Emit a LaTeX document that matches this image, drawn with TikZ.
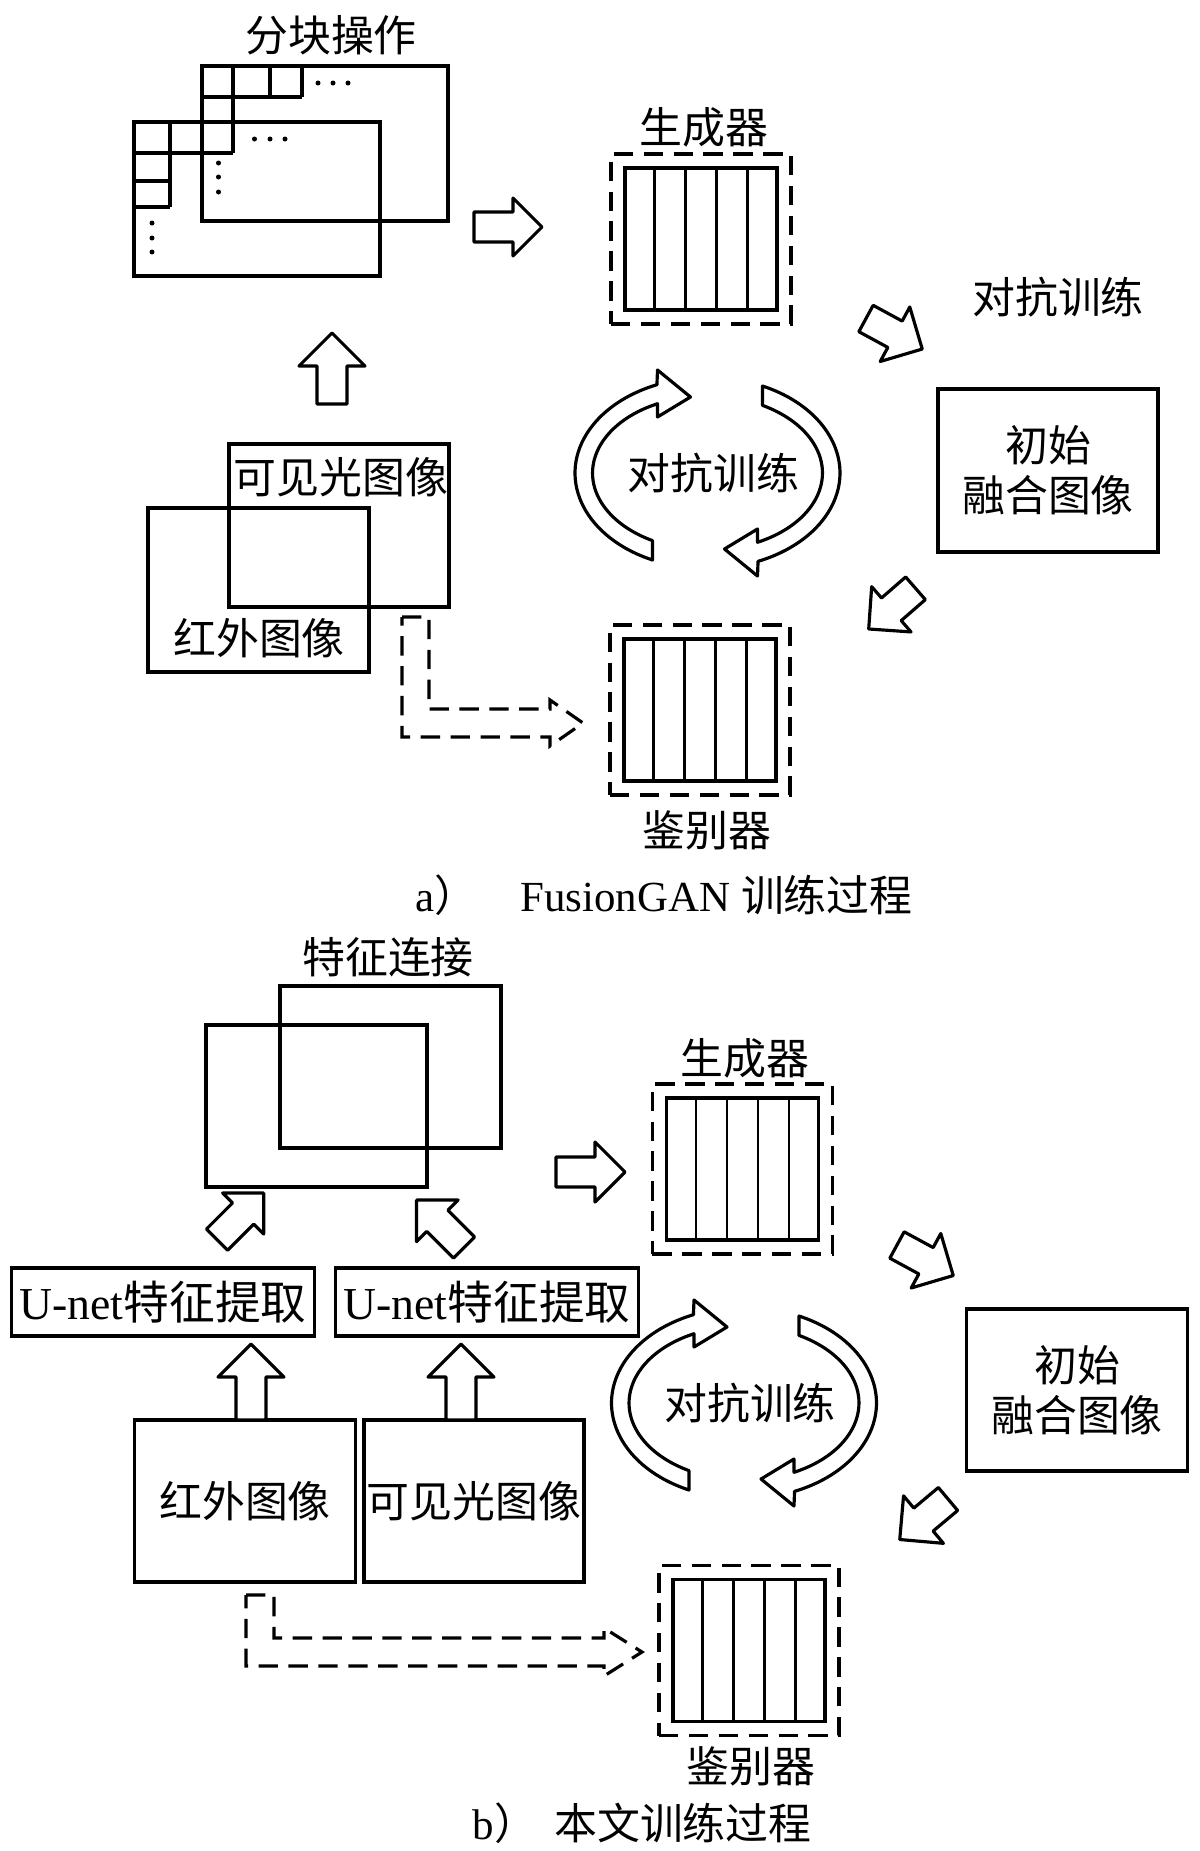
\documentclass[tikz,border=0pt]{standalone}
\usepackage{fontspec}
\setmainfont{Liberation Serif}
\newfontfamily\cjk{Noto Sans CJK SC}
\usepackage{tikz}
\usetikzlibrary{positioning,calc}

\tikzset{
  box/.style={draw, line width=0.9pt, inner sep=0pt},
  dashbox/.style={draw, line width=0.9pt, inner sep=0pt, dash pattern=on 5.5pt off 3pt},
  fat/.style={draw, line width=0.9pt, fill=white, line join=round},
  txt/.style={inner sep=0pt},
}

% block arrow: tail centre, angle, shaft length, head length
\newcommand{\fatarrow}[5][fat]{%
  \draw[#1, shift={(#2)}, rotate=#3] (0,-15) -- (#4,-15) -- (#4,-#5) -- ({#4+#5},0) -- (#4,#5) -- (#4,15) -- (0,15) -- cycle;}

% generator / discriminator block
\newcommand{\netblock}[2]{%
  \node[box, minimum width=1.52cm, minimum height=1.42cm] (#1) at (#2) {};
  \node[dashbox, minimum width=1.80cm, minimum height=1.70cm] (#1-out) at (#2) {};
  \foreach \i in {1,...,4}
    \draw[line width=0.7pt] ($(#1.south west)!\i/5!(#1.south east)$) -- ($(#1.north west)!\i/5!(#1.north east)$);}

% two curved arrows round a label
\newcommand{\cyclearrows}[2]{%
  \begin{scope}[shift={(#2)}]
    \foreach \r in {0,180}
      \draw[fat, rotate=\r] (-55,-87) arc[start angle=245.6, end angle=112.3, x radius=132, y radius=95.5]
        -- (-50,103) -- (-17,76) -- (-50,56) -- (-50,69.3)
        arc[start angle=115.8, end angle=241.4, x radius=115, y radius=77] -- cycle;
    \node[txt] (#1) at (6,0) {对抗训练};
  \end{scope}}

\begin{document}
\begin{tikzpicture}[x=0.01cm, y=0.01cm, font=\cjk\fontsize{12.2}{14.2}\selectfont]
\useasboundingbox (0,0) rectangle (1200,-1851);

% a) FusionGAN
\node[txt] (patch-lbl) at (331,-35) {分块操作};
\node[box, minimum width=2.46cm, minimum height=1.55cm] (patch-back) at (325,-143.5) {};
\node[box, minimum width=2.46cm, minimum height=1.54cm] (patch-front) at (257,-199) {};
\draw[line width=0.9pt] (202,-97) -- (302,-97) (233,-66) -- (233,-153) (270,-66) -- (270,-97) (302,-66) -- (302,-97);
\draw[line width=0.9pt] (134,-153) -- (233,-153) (170,-122) -- (170,-207) (134,-181) -- (170,-181) (134,-207) -- (170,-207);
\foreach \x/\y in {318/83, 333/83, 348/83, 218.5/163, 218.5/177, 218.5/192, 254.5/139, 270/139, 285/139, 152/223, 152/238, 152/252}
  \fill (\x,-\y) circle (2.5);

\node[box, minimum width=2.20cm, minimum height=1.63cm] (vis-a) at (339,-525.5) {};
\node[box, minimum width=2.21cm, minimum height=1.64cm] (ir-a) at (258.5,-590) {};
\node[txt] (vis-a-lbl) at (341,-477) {可见光图像};
\node[txt] (ir-a-lbl) at (259,-638) {红外图像};

\fatarrow{332,-404}{90}{38}{33}
\fatarrow{474,-227}{0}{39}{29}

\netblock{gen-a}{701,-239}
\node[txt] (gen-a-lbl) at (704,-127) {生成器};
\netblock{disc-a}{700,-710}
\node[txt] (disc-a-lbl) at (707,-830) {鉴别器};

\cyclearrows{adv-a}{707.5,-473}
\node[txt] (adv-a-side) at (1058,-297) {对抗训练};
\node[box, minimum width=2.20cm, minimum height=1.63cm, align=center] (init-a) at (1048,-470.5) {初始\\融合图像};
\fatarrow{866,-318.5}{-28.5}{33}{31}
\fatarrow{915.5,-588.3}{221}{32}{30}

\draw[dashbox] (402,-617) -- (429,-617) -- (429,-709) -- (550,-709) -- (550,-700) -- (583,-723) -- (550,-746) -- (550,-737) -- (402,-737) -- cycle;

\node[txt, anchor=west] (cap-a) at (415,-895) {{\rmfamily a}）\hspace{1em}{\rmfamily FusionGAN }训练过程};

% b) ours
\node[txt] (feat-lbl) at (388,-957) {特征连接};
\node[box, minimum width=2.21cm, minimum height=1.62cm] (feat-back) at (390.5,-1067) {};
\node[box, minimum width=2.21cm, minimum height=1.62cm] (feat-front) at (316.5,-1106) {};

\node[box, minimum width=3.02cm, minimum height=0.68cm, font=\cjk\fontsize{13}{15}\selectfont] (unet-ir) at (163,-1302) {{\rmfamily U-net}特征提取};
\node[box, minimum width=3.02cm, minimum height=0.68cm, font=\cjk\fontsize{13}{15}\selectfont] (unet-vis) at (487,-1302) {{\rmfamily U-net}特征提取};
\node[box, minimum width=2.21cm, minimum height=1.62cm] (ir-b) at (245,-1501) {红外图像};
\node[box, minimum width=2.20cm, minimum height=1.62cm] (vis-b) at (474,-1501) {可见光图像};

\fatarrow{251,-1420}{90}{43}{33}
\fatarrow{461,-1420}{90}{43}{33}
\fatarrow{217,-1239.7}{45}{37}{29}
\fatarrow{464,-1247.5}{135}{37.7}{29.4}
\fatarrow{556,-1172}{0}{39}{30}

\netblock{gen-b}{742.5,-1169}
\node[txt] (gen-b-lbl) at (745,-1058) {生成器};
\netblock{disc-b}{749,-1650.5}
\node[txt] (disc-b-lbl) at (751,-1766) {鉴别器};

\cyclearrows{adv-b}{744,-1403}
\node[box, minimum width=2.21cm, minimum height=1.62cm, align=center] (init-b) at (1077,-1390) {初始\\融合图像};
\fatarrow{897,-1245}{-28.5}{33}{31}
\fatarrow{948,-1499}{220}{32}{31}

\draw[dashbox] (246,-1595) -- (274,-1595) -- (274,-1638) -- (604,-1638) -- (604,-1628) -- (642,-1652) -- (604,-1676) -- (604,-1666) -- (246,-1666) -- cycle;

\node[txt, anchor=west] (cap-b) at (472,-1823) {{\rmfamily b}）\hspace{0.4em}本文训练过程};
\end{tikzpicture}
\end{document}
